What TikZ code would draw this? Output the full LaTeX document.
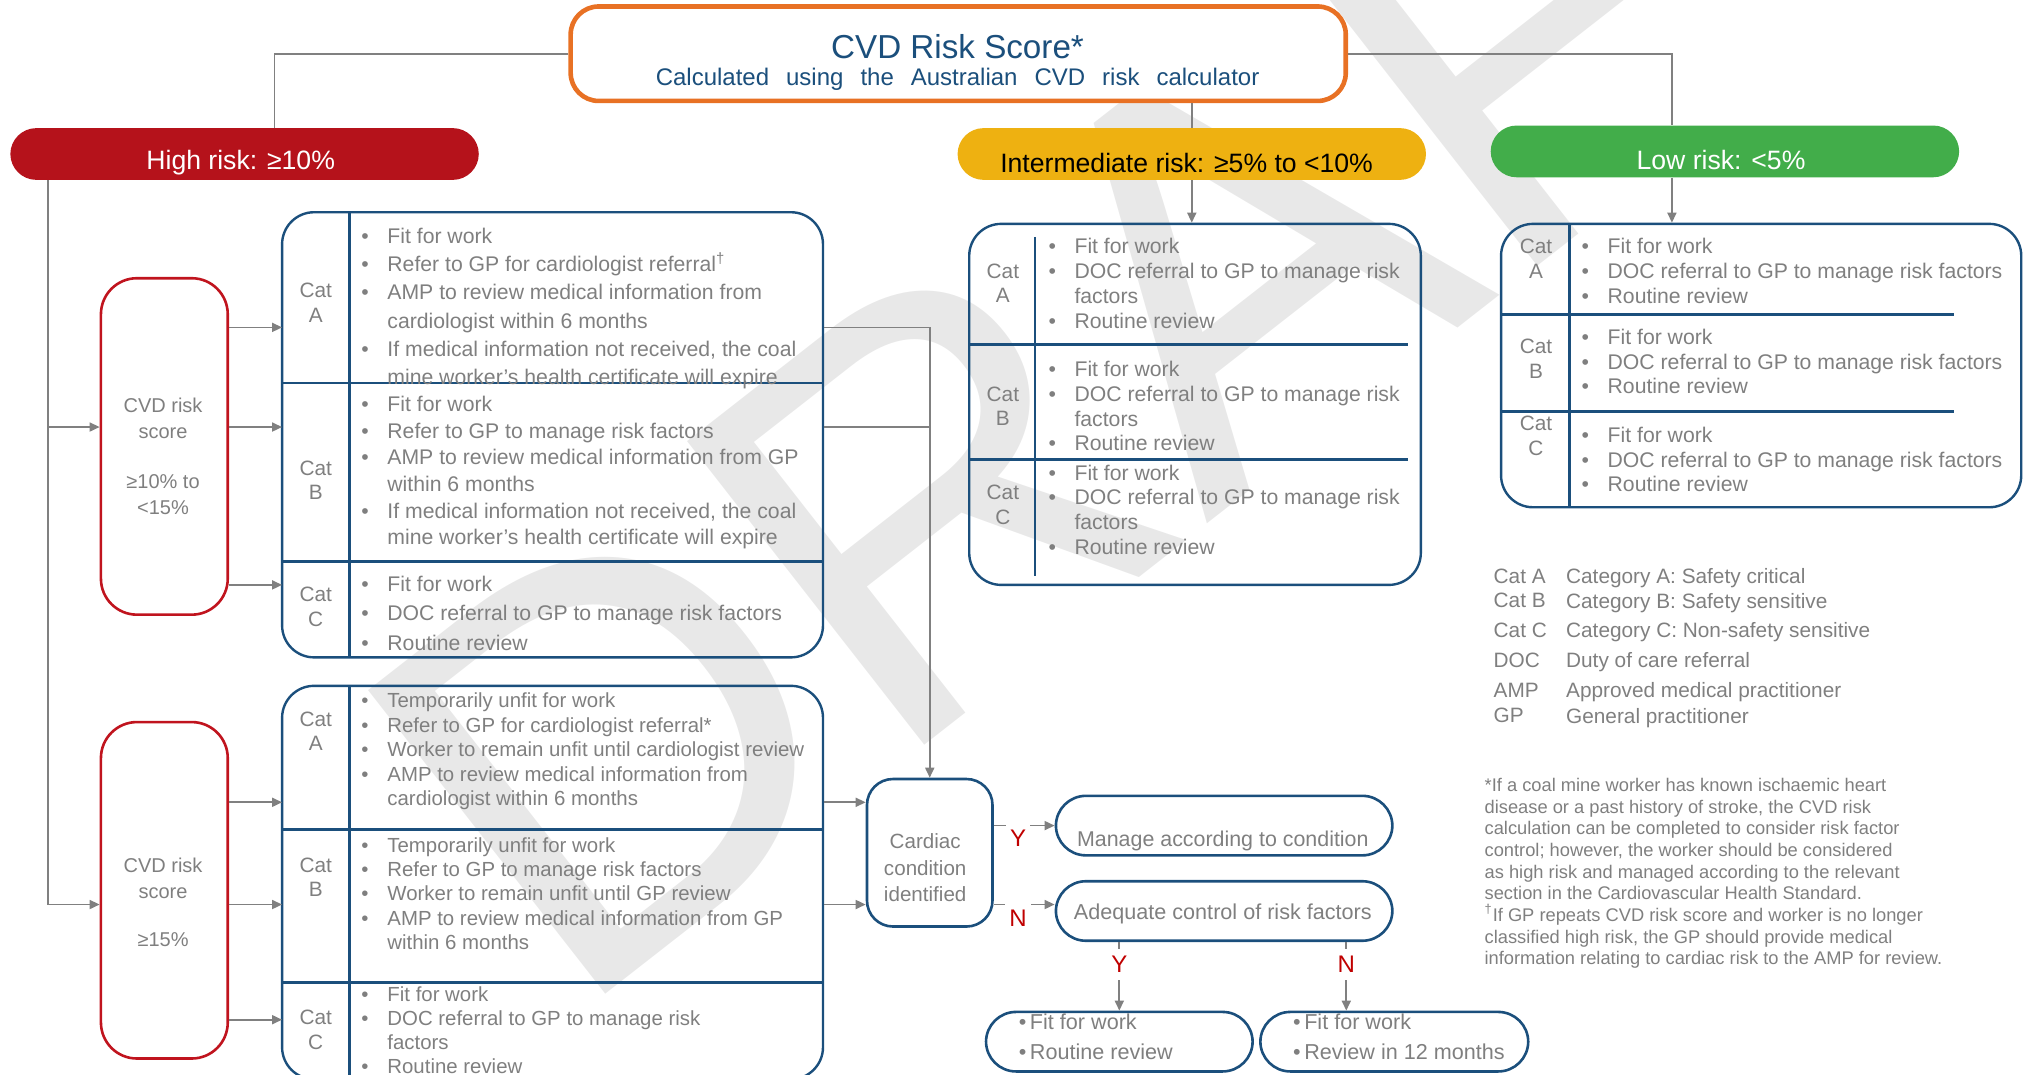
\documentclass[tikz,border=0pt]{standalone}
\usepackage{xcolor}
\usepackage{tikz}
\usepackage{fontspec}
\setmainfont{Liberation Sans}
\usetikzlibrary{fit,arrows.meta}

\definecolor{navy}{HTML}{1B4F7C}
\definecolor{txtgray}{HTML}{7F7F7F}
\definecolor{linegray}{HTML}{808080}
\definecolor{hired}{HTML}{B5121B}
\definecolor{boxred}{HTML}{C0141E}
\definecolor{midgold}{HTML}{EEB111}
\definecolor{lowgreen}{HTML}{42AD4A}
\definecolor{titleorange}{HTML}{E87124}
\definecolor{ynred}{HTML}{C00000}
\definecolor{wmgray}{HTML}{E8E8E8}

\newcommand{\setfs}[2]{\fontsize{#1}{#2}\selectfont}
\newcommand{\bitem}{\makebox[13pt][l]{\textbullet}}
\newcommand{\bcont}{\hspace*{13pt}}

\tikzset{
  wmark/.style={anchor=base west, inner sep=0pt, rotate=38, text=wmgray, font=\setfs{280}{280}},
  titlebox/.style={draw=titleorange, line width=2.3pt, rounded corners=14pt, fill=white, inner sep=0pt},
  titletxt/.style={text=navy, inner sep=0pt},
  pill/.style={rounded corners=13pt, inner sep=0pt},
  pilltxt/.style={inner sep=0pt, font=\setfs{13.3}{15}},
  cvdbox/.style={draw=boxred, line width=1.3pt, rounded corners=18pt, inner sep=0pt},
  tabbox/.style={draw=navy, line width=1.2pt, rounded corners=16pt, inner sep=0pt},
  roundbox/.style={draw=navy, line width=1.3pt, rounded corners=14pt, inner sep=0pt},
  divline/.style={draw=navy, line width=1.4pt},
  celltxt/.style={align=center, text=txtgray, inner sep=0pt},
  rowtxt/.style={anchor=north west, align=left, text=txtgray, inner sep=0pt},
  conn/.style={draw=linegray, line width=0.85pt},
  yn/.style={text=ynred, fill=white, inner xsep=2pt, inner ysep=3.5pt, font=\setfs{12}{12}}
}

\begin{document}
\begin{tikzpicture}[x=0.647pt, y=-0.647pt, >={Triangle[length=5pt,width=4.5pt]}]
    \useasboundingbox (0,0) rectangle (1568,830);

    % Watermark
    \node[wmark] (draft) at (440,790) {DRAFT};

    % Title
    \node[titlebox, fit={(441,5) (1040,78)}] (title) {};
    \node[titletxt, font=\setfs{16.6}{18}] (titleMain) at (740,36) {CVD Risk Score*};
    \node[titletxt, font=\setfs{12}{14}] (titleSub) at (740,61) {\spaceskip=8.5pt\relax Calculated using the Australian CVD risk calculator};

    % Risk levels
    \node[pill, fill=hired, fit={(8,99) (370,139)}] (high) {};
    \node[pilltxt, text=white] (highTxt) at (186,126) {High risk: ≥10\%};
    \node[pill, fill=midgold, fit={(740,99) (1102,139)}] (mid) {};
    \node[pilltxt, text=black] (midTxt) at (917,126) {Intermediate risk: ≥5\% to <10\%};
    \node[pill, fill=lowgreen, fit={(1152,97) (1514,137)}] (low) {};
    \node[pilltxt, text=white] (lowTxt) at (1330,124) {Low risk: <5\%};

    % High risk score boxes
    \node[cvdbox, fit={(78,215) (176,475)}] (cvd1) {};
    \node[celltxt, font=\setfs{10}{13}] (cvd1Txt) at (126,352.5) {CVD risk\\score\\[12pt]≥10\% to\\<15\%};
    \node[cvdbox, fit={(78,558) (176,818)}] (cvd2) {};
    \node[celltxt, font=\setfs{10}{13}] (cvd2Txt) at (126,697.5) {CVD risk\\score\\[11pt]≥15\%};

    % High risk 10-15% table
    \node[tabbox, fit={(218,164) (636,508)}] (tabHi1) {};
    \draw[divline] (218,296) -- (636,296);
    \draw[divline] (218,434) -- (636,434);
    \draw[divline, line width=1.2pt] (270,164) -- (270,508);
    \node[celltxt, font=\setfs{10.4}{12.3}] (hi1CatA) at (244,234) {Cat\\A};
    \node[celltxt, font=\setfs{10.4}{12.3}] (hi1CatB) at (244,371) {Cat\\B};
    \node[celltxt, font=\setfs{10.4}{12.3}] (hi1CatC) at (244,469) {Cat\\C};
    \node[rowtxt, font=\setfs{10.6}{14.1}] (hi1RowA) at (279,176) {\bitem Fit for work\\
      \bitem Refer to GP for cardiologist referral\textsuperscript{†}\\
      \bitem AMP to review medical information from\\
      \bcont cardiologist within 6 months\\
      \bitem If medical information not received, the coal\\
      \bcont mine worker’s health certificate will expire};
    \node[rowtxt, font=\setfs{10.6}{13.3}] (hi1RowB) at (279,306) {\bitem Fit for work\\
      \bitem Refer to GP to manage risk factors\\
      \bitem AMP to review medical information from GP\\
      \bcont within 6 months\\
      \bitem If medical information not received, the coal\\
      \bcont mine worker’s health certificate will expire};
    \node[rowtxt, font=\setfs{10.6}{14.6}] (hi1RowC) at (279,445) {\bitem Fit for work\\
      \bitem DOC referral to GP to manage risk factors\\
      \bitem Routine review};

    % High risk 15% table
    \node[tabbox, fit={(218,530) (636,834)}] (tabHi2) {};
    \draw[divline] (218,641) -- (636,641);
    \draw[divline] (218,759) -- (636,759);
    \draw[divline, line width=1.2pt] (270,530) -- (270,834);
    \node[celltxt, font=\setfs{10.4}{12.3}] (hi2CatA) at (244,565) {Cat\\A};
    \node[celltxt, font=\setfs{10.4}{12.3}] (hi2CatB) at (244,678) {Cat\\B};
    \node[celltxt, font=\setfs{10.4}{12.3}] (hi2CatC) at (244,796) {Cat\\C};
    \node[rowtxt, font=\setfs{10.2}{12.3}] (hi2RowA) at (279,535) {\bitem Temporarily unfit for work\\
      \bitem Refer to GP for cardiologist referral*\\
      \bitem Worker to remain unfit until cardiologist review\\
      \bitem AMP to review medical information from\\
      \bcont cardiologist within 6 months};
    \node[rowtxt, font=\setfs{10.2}{12.1}] (hi2RowB) at (279,647) {\bitem Temporarily unfit for work\\
      \bitem Refer to GP to manage risk factors\\
      \bitem Worker to remain unfit until GP review\\
      \bitem AMP to review medical information from GP\\
      \bcont within 6 months};
    \node[rowtxt, font=\setfs{10.2}{12.1}] (hi2RowC) at (279,762) {\bitem Fit for work\\
      \bitem DOC referral to GP to manage risk\\
      \bcont factors\\
      \bitem Routine review};

    % Intermediate risk table
    \node[tabbox, fit={(749,173) (1098,452)}] (tabMid) {};
    \draw[divline] (749,266) -- (1088,266);
    \draw[divline] (749,355) -- (1088,355);
    \draw[divline, line width=1.2pt] (800,183) -- (800,445);
    \node[celltxt, font=\setfs{10.4}{12.3}] (midCatA) at (775,219) {Cat\\A};
    \node[celltxt, font=\setfs{10.4}{12.3}] (midCatB) at (775,314) {Cat\\B};
    \node[celltxt, font=\setfs{10.4}{12.3}] (midCatC) at (775,390) {Cat\\C};
    \node[rowtxt, font=\setfs{10.6}{12.5}] (midRowA) at (810,184) {\bitem Fit for work\\
      \bitem DOC referral to GP to manage risk\\
      \bcont factors\\
      \bitem Routine review};
    \node[rowtxt, font=\setfs{10.6}{12.3}] (midRowB) at (810,279) {\bitem Fit for work\\
      \bitem DOC referral to GP to manage risk\\
      \bcont factors\\
      \bitem Routine review};
    \node[rowtxt, font=\setfs{10.6}{12.3}] (midRowC) at (810,359) {\bitem Fit for work\\
      \bitem DOC referral to GP to manage risk\\
      \bcont factors\\
      \bitem Routine review};

    % Low risk table
    \node[tabbox, fit={(1160,173) (1562,392)}] (tabLow) {};
    \draw[divline] (1160,243) -- (1510,243);
    \draw[divline] (1160,318) -- (1510,318);
    \draw[divline, line width=1.2pt] (1213,173) -- (1213,392);
    \node[celltxt, font=\setfs{10.4}{12.3}] (lowCatA) at (1187,200) {Cat\\A};
    \node[celltxt, font=\setfs{10.4}{12.3}] (lowCatB) at (1187,277) {Cat\\B};
    \node[celltxt, font=\setfs{10.4}{12.3}] (lowCatC) at (1187,337) {Cat\\C};
    \node[rowtxt, font=\setfs{10.6}{12.3}] (lowRowA) at (1222,184) {\bitem Fit for work\\
      \bitem DOC referral to GP to manage risk factors\\
      \bitem Routine review};
    \node[rowtxt, font=\setfs{10.6}{12.3}] (lowRowB) at (1222,254) {\bitem Fit for work\\
      \bitem DOC referral to GP to manage risk factors\\
      \bitem Routine review};
    \node[rowtxt, font=\setfs{10.6}{12.3}] (lowRowC) at (1222,330) {\bitem Fit for work\\
      \bitem DOC referral to GP to manage risk factors\\
      \bitem Routine review};

    % Cardiac follow-up
    \node[roundbox, rounded corners=13pt, fit={(670,602) (767,716)}] (cardiac) {};
    \node[celltxt, font=\setfs{10.3}{13.3}] (cardiacTxt) at (715,670.5) {Cardiac\\condition\\identified};
    \node[roundbox, rounded corners=15pt, fit={(816,615) (1076,661)}] (manage) {};
    \node[celltxt, font=\setfs{10.7}{13}] (manageTxt) at (945,650) {Manage according to condition};
    \node[roundbox, rounded corners=15pt, fit={(816,681) (1076,727)}] (adequate) {};
    \node[celltxt, font=\setfs{10.8}{13}] (adequateTxt) at (945,706) {Adequate control of risk factors};
    \node[roundbox, rounded corners=15pt, fit={(762,782) (968,828)}] (fitA) {};
    \node[rowtxt, anchor=west, font=\setfs{10.8}{14.9}] (fitATxt) at (787,801) {\textbullet\,Fit for work\\\textbullet\,Routine review};
    \node[roundbox, rounded corners=15pt, fit={(974,782) (1181,828)}] (fitB) {};
    \node[rowtxt, anchor=west, font=\setfs{10.8}{14.9}] (fitBTxt) at (999,801) {\textbullet\,Fit for work\\\textbullet\,Review in 12 months};

    % Legend
    \node[rowtxt, font=\setfs{10.4}{12.3}] (legKey) at (1154,439) {Cat A\\Cat B\\[2.6pt]Cat C\\[2.6pt]DOC\\[2.6pt]AMP\\[0.6pt]GP};
    \node[rowtxt, font=\setfs{10.4}{12.3}] (legDef) at (1210,439) {Category A: Safety critical\\Category B: Safety sensitive\\[2.6pt]Category C: Non-safety sensitive\\[2.6pt]Duty of care referral\\[2.6pt]Approved medical practitioner\\[0.6pt]General practitioner};

    % Footnotes
    \node[rowtxt, font=\setfs{9.15}{10.85}] (notes) at (1147,601) {*If a coal mine worker has known ischaemic heart\\
      disease or a past history of stroke, the CVD risk\\
      calculation can be completed to consider risk factor\\
      control; however, the worker should be considered\\
      as high risk and managed according to the relevant\\
      section in the Cardiovascular Health Standard.\\
      \textsuperscript{†}If GP repeats CVD risk score and worker is no longer\\
      classified high risk, the GP should provide medical\\
      information relating to cardiac risk to the AMP for review.};

    % Arrow levels
    \coordinate (trunk) at (37,139);
    \coordinate (hi1a) at (218,253);
    \coordinate (hi1b) at (218,330);
    \coordinate (hi1c) at (218,452);
    \coordinate (hi2a) at (218,620);
    \coordinate (hi2b) at (218,699);
    \coordinate (hi2c) at (218,788);

    % Arrows
    \draw[conn] (title.west) -| ([xshift=15pt]high.north);
    \draw[conn] (title.east) -| ([xshift=-26.5pt]low.north);
    \draw[conn] (title.south -| mid.north) -- (mid.north);
    \draw[conn, ->] (mid.south) -- (mid.south |- tabMid.north);
    \draw[conn, ->] ([xshift=-26.5pt]low.south) -- ([xshift=-26.5pt]low.south |- tabLow.north);
    \draw[conn, ->] (trunk |- high.south) |- (cvd2.west |- hi2b);
    \draw[conn, ->] (trunk |- hi1b) -- (cvd1.west |- hi1b);
    \draw[conn, ->] (cvd1.east |- hi1a) -- (hi1a);
    \draw[conn, ->] (cvd1.east |- hi1b) -- (hi1b);
    \draw[conn, ->] (cvd1.east |- hi1c) -- (hi1c);
    \draw[conn, ->] (cvd2.east |- hi2a) -- (hi2a);
    \draw[conn, ->] (cvd2.east |- hi2b) -- (hi2b);
    \draw[conn, ->] (cvd2.east |- hi2c) -- (hi2c);
    \draw[conn, ->] (tabHi1.east |- hi1a) -| (cardiac.north);
    \draw[conn] (tabHi1.east |- hi1b) -- (cardiac.north |- hi1b);
    \draw[conn, ->] (tabHi2.east |- hi2a) -- (cardiac.west |- hi2a);
    \draw[conn, ->] (tabHi2.east |- hi2b) -- (cardiac.west |- hi2b);
    \draw[conn, ->] (cardiac.east |- manage.west) -- node[yn, pos=0.4, yshift=-6.5pt] {Y} (manage.west);
    \draw[conn, ->] (cardiac.east |- hi2b) -- node[yn, pos=0.4, yshift=-7pt] {N} (adequate.west |- hi2b);
    \draw[conn, ->] (adequate.south -| fitA.north) -- node[yn, pos=0.33] {Y} (fitA.north);
    \draw[conn, ->] ([xshift=-24pt]fitB.north |- adequate.south) -- node[yn, pos=0.33] {N} ([xshift=-24pt]fitB.north);
\end{tikzpicture}
\end{document}
